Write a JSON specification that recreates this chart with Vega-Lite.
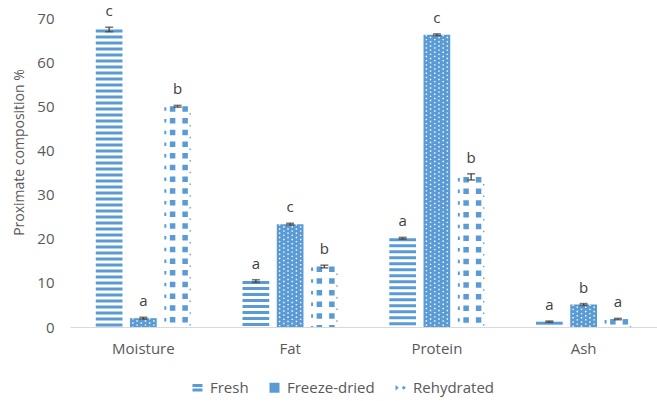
{
  "$schema": "https://vega.github.io/schema/vega-lite/v6.json",
  "width": 587,
  "height": 309,
  "autosize": {"type": "none"},
  "padding": {"left": 70, "top": 18, "right": 0, "bottom": 74},
  "background": "white",
  "config": {"view": {"stroke": null}, "font": "Open Sans"},
  "data": {"values": [
    {"cat": "Moisture", "series": "Fresh", "v": 67.4, "lo": 66.9, "hi": 67.9, "letter": "c"},
    {"cat": "Moisture", "series": "Freeze-dried", "v": 2.0, "lo": 1.8, "hi": 2.2, "letter": "a"},
    {"cat": "Moisture", "series": "Rehydrated", "v": 50.0, "lo": 49.8, "hi": 50.2, "letter": "b"},
    {"cat": "Fat", "series": "Fresh", "v": 10.4, "lo": 10.1, "hi": 10.7, "letter": "a"},
    {"cat": "Fat", "series": "Freeze-dried", "v": 23.3, "lo": 23.1, "hi": 23.5, "letter": "c"},
    {"cat": "Fat", "series": "Rehydrated", "v": 13.7, "lo": 13.4, "hi": 14.0, "letter": "b"},
    {"cat": "Protein", "series": "Fresh", "v": 20.1, "lo": 19.9, "hi": 20.3, "letter": "a"},
    {"cat": "Protein", "series": "Freeze-dried", "v": 66.2, "lo": 66.0, "hi": 66.4, "letter": "c"},
    {"cat": "Protein", "series": "Rehydrated", "v": 34.0, "lo": 33.3, "hi": 34.7, "letter": "b"},
    {"cat": "Ash", "series": "Fresh", "v": 1.2, "lo": 1.05, "hi": 1.35, "letter": "a"},
    {"cat": "Ash", "series": "Freeze-dried", "v": 5.1, "lo": 4.9, "hi": 5.3, "letter": "b"},
    {"cat": "Ash", "series": "Rehydrated", "v": 1.8, "lo": 1.65, "hi": 1.95, "letter": "a"}
  ]},
  "layer": [
    {
      "transform": [{"filter": "datum.series === 'Freeze-dried'"}],
      "mark": {"type": "bar", "color": "#5b9bd5"},
      "encoding": {
        "x": {
          "field": "cat", "type": "nominal",
          "sort": ["Moisture", "Fat", "Protein", "Ash"],
          "scale": {"domain": ["Moisture", "Fat", "Protein", "Ash"], "paddingInner": 0.3, "paddingOuter": 0.15},
          "axis": {"title": null, "labelAngle": 0, "labelFontSize": 15, "labelColor": "#595959", "labelPadding": 14, "ticks": false, "domainColor": "#d9d9d9", "domainWidth": 1}
        },
        "xOffset": {"field": "series", "type": "nominal", "sort": ["Fresh", "Freeze-dried", "Rehydrated"], "scale": {"domain": ["Fresh", "Freeze-dried", "Rehydrated"], "paddingInner": 0.22, "paddingOuter": 0.11}},
        "y": {"field": "v", "type": "quantitative", "scale": {"domain": [0, 70], "nice": false},
          "axis": {"title": "Proximate composition %", "titleFontSize": 14, "titleFontWeight": "normal", "titleColor": "#595959", "titlePadding": 10, "titleY": 134, "labelFontSize": 15, "labelColor": "#595959", "labelPadding": 16, "ticks": false, "domain": false, "grid": false, "values": [0, 10, 20, 30, 40, 50, 60, 70]}}
      }
    },
    {
      "transform": [{"filter": "datum.series === 'Freeze-dried'"}],
      "mark": {"type": "rule", "color": "white", "strokeWidth": 1.4, "strokeDash": [1.4, 2.8]},
      "encoding": {"x": {"field": "cat", "type": "nominal", "sort": ["Moisture", "Fat", "Protein", "Ash"], "bandPosition": 0.3978}, "y": {"field": "v", "type": "quantitative"}, "y2": {"datum": 0}}
    },
    {
      "transform": [{"filter": "datum.series === 'Freeze-dried'"}],
      "mark": {"type": "rule", "color": "white", "strokeWidth": 1.4, "strokeDash": [1.4, 2.8], "strokeDashOffset": 2.1},
      "encoding": {"x": {"field": "cat", "type": "nominal", "sort": ["Moisture", "Fat", "Protein", "Ash"], "bandPosition": 0.4386}, "y": {"field": "v", "type": "quantitative"}, "y2": {"datum": 0}}
    },
    {
      "transform": [{"filter": "datum.series === 'Freeze-dried'"}],
      "mark": {"type": "rule", "color": "white", "strokeWidth": 1.4, "strokeDash": [1.4, 2.8]},
      "encoding": {"x": {"field": "cat", "type": "nominal", "sort": ["Moisture", "Fat", "Protein", "Ash"], "bandPosition": 0.4795}, "y": {"field": "v", "type": "quantitative"}, "y2": {"datum": 0}}
    },
    {
      "transform": [{"filter": "datum.series === 'Freeze-dried'"}],
      "mark": {"type": "rule", "color": "white", "strokeWidth": 1.4, "strokeDash": [1.4, 2.8], "strokeDashOffset": 2.1},
      "encoding": {"x": {"field": "cat", "type": "nominal", "sort": ["Moisture", "Fat", "Protein", "Ash"], "bandPosition": 0.5204}, "y": {"field": "v", "type": "quantitative"}, "y2": {"datum": 0}}
    },
    {
      "transform": [{"filter": "datum.series === 'Freeze-dried'"}],
      "mark": {"type": "rule", "color": "white", "strokeWidth": 1.4, "strokeDash": [1.4, 2.8]},
      "encoding": {"x": {"field": "cat", "type": "nominal", "sort": ["Moisture", "Fat", "Protein", "Ash"], "bandPosition": 0.5613}, "y": {"field": "v", "type": "quantitative"}, "y2": {"datum": 0}}
    },
    {
      "transform": [{"filter": "datum.series === 'Freeze-dried'"}],
      "mark": {"type": "rule", "color": "white", "strokeWidth": 1.4, "strokeDash": [1.4, 2.8], "strokeDashOffset": 2.1},
      "encoding": {"x": {"field": "cat", "type": "nominal", "sort": ["Moisture", "Fat", "Protein", "Ash"], "bandPosition": 0.6022}, "y": {"field": "v", "type": "quantitative"}, "y2": {"datum": 0}}
    },
    {
      "transform": [{"filter": "datum.series === 'Fresh'"}],
      "mark": {"type": "rule", "color": "#5b9bd5", "strokeWidth": 26.7, "strokeDash": [3, 3]},
      "encoding": {"x": {"field": "cat", "type": "nominal", "sort": ["Moisture", "Fat", "Protein", "Ash"], "bandPosition": 0.1667}, "y": {"field": "v", "type": "quantitative"}, "y2": {"datum": 0}}
    },
    {
      "transform": [{"filter": "datum.series === 'Rehydrated'"}],
      "mark": {"type": "rule", "color": "#5b9bd5", "strokeWidth": 5.5, "strokeDash": [5.5, 6.2]},
      "encoding": {"x": {"field": "cat", "type": "nominal", "sort": ["Moisture", "Fat", "Protein", "Ash"], "bandPosition": 0.7846}, "y": {"field": "v", "type": "quantitative"}, "y2": {"datum": 0}}
    },
    {
      "transform": [{"filter": "datum.series === 'Rehydrated'"}],
      "mark": {"type": "rule", "color": "#5b9bd5", "strokeWidth": 5.5, "strokeDash": [5.5, 6.2]},
      "encoding": {"x": {"field": "cat", "type": "nominal", "sort": ["Moisture", "Fat", "Protein", "Ash"], "bandPosition": 0.9063}, "y": {"field": "v", "type": "quantitative"}, "y2": {"datum": 0}}
    },
    {
      "transform": [{"filter": "datum.series === 'Rehydrated'"}],
      "mark": {"type": "rule", "color": "#5b9bd5", "strokeWidth": 2, "strokeDash": [3.5, 8.2], "strokeDashOffset": -1},
      "encoding": {"x": {"field": "cat", "type": "nominal", "sort": ["Moisture", "Fat", "Protein", "Ash"], "bandPosition": 0.7136}, "y": {"field": "v", "type": "quantitative"}, "y2": {"datum": 0}}
    },
    {
      "transform": [{"filter": "datum.series === 'Rehydrated'"}],
      "mark": {"type": "rule", "color": "#5b9bd5", "strokeWidth": 1.3, "strokeDash": [1.5, 10.2], "strokeDashOffset": -7},
      "encoding": {"x": {"field": "cat", "type": "nominal", "sort": ["Moisture", "Fat", "Protein", "Ash"], "bandPosition": 0.956}, "y": {"field": "v", "type": "quantitative"}, "y2": {"datum": 0}}
    },
    {
      "mark": {"type": "rule", "color": "#404040", "strokeWidth": 1.3},
      "encoding": {
        "x": {"field": "cat", "type": "nominal", "sort": ["Moisture", "Fat", "Protein", "Ash"]},
        "xOffset": {"field": "series", "type": "nominal", "sort": ["Fresh", "Freeze-dried", "Rehydrated"]},
        "y": {"field": "lo", "type": "quantitative"}, "y2": {"field": "hi"}}
    },
    {
      "mark": {"type": "tick", "color": "#404040", "size": 8, "thickness": 1.6, "orient": "horizontal"},
      "encoding": {
        "x": {"field": "cat", "type": "nominal", "sort": ["Moisture", "Fat", "Protein", "Ash"]},
        "xOffset": {"field": "series", "type": "nominal", "sort": ["Fresh", "Freeze-dried", "Rehydrated"]},
        "y": {"field": "hi", "type": "quantitative"}}
    },
    {
      "mark": {"type": "tick", "color": "#404040", "size": 8, "thickness": 1.6, "orient": "horizontal"},
      "encoding": {
        "x": {"field": "cat", "type": "nominal", "sort": ["Moisture", "Fat", "Protein", "Ash"]},
        "xOffset": {"field": "series", "type": "nominal", "sort": ["Fresh", "Freeze-dried", "Rehydrated"]},
        "y": {"field": "lo", "type": "quantitative"}}
    },
    {
      "mark": {"type": "text", "fontSize": 15, "color": "#404040", "baseline": "alphabetic", "dy": -11},
      "encoding": {
        "x": {"field": "cat", "type": "nominal", "sort": ["Moisture", "Fat", "Protein", "Ash"]},
        "xOffset": {"field": "series", "type": "nominal", "sort": ["Fresh", "Freeze-dried", "Rehydrated"]},
        "y": {"field": "hi", "type": "quantitative"}, "text": {"field": "letter"}}
    },
    {
      "mark": {"type": "point", "filled": true, "opacity": 0, "color": "#5b9bd5"},
      "encoding": {
        "x": {"field": "cat", "type": "nominal", "sort": ["Moisture", "Fat", "Protein", "Ash"]},
        "xOffset": {"field": "series", "type": "nominal", "sort": ["Fresh", "Freeze-dried", "Rehydrated"]},
        "y": {"field": "v", "type": "quantitative"},
        "shape": {
          "field": "series", "type": "nominal",
          "scale": {"domain": ["Fresh", "Freeze-dried", "Rehydrated"], "range": ["M-1,-0.75H1V-0.15H-1Z M-1,0.15H1V0.75H-1Z", "square", "M-1,-0.55L-0.35,0L-1,0.55Z M0.25,0L0.65,-0.4L1.05,0L0.65,0.4Z"]},
          "legend": {"title": null, "orient": "none", "direction": "horizontal", "legendX": 120, "legendY": 362, "labelFontSize": 15, "labelColor": "#595959", "labelOffset": 5, "columnPadding": 18, "symbolSize": 100, "symbolOpacity": 1, "symbolFillColor": "#5b9bd5", "symbolStrokeWidth": 0}
        }
      }
    }
  ]
}
